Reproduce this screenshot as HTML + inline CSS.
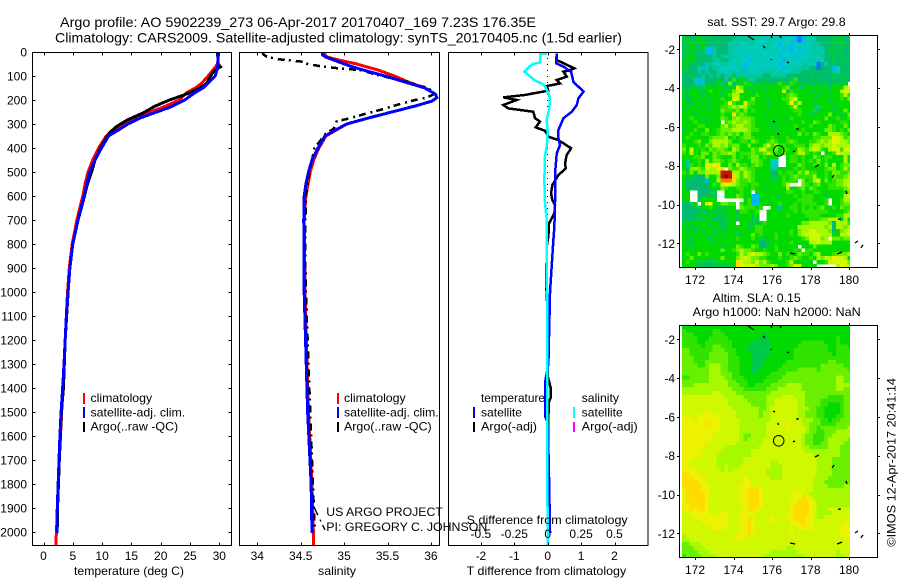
<!DOCTYPE html>
<html>
<head>
<meta charset="utf-8">
<title>Argo profile</title>
<style>
html,body{margin:0;padding:0;background:#fff;}
svg{display:block;}
text{font-family:"Liberation Sans",sans-serif;fill:#000;}
</style>
</head>
<body>
<svg id="chart" xmlns="http://www.w3.org/2000/svg" width="900" height="580" viewBox="0 0 900 580">
<rect x="0" y="0" width="900" height="580" fill="#fff"/>
<defs>
<clipPath id="clip1"><rect x="33" y="52" width="198" height="493"/></clipPath>
<clipPath id="clip2"><rect x="240" y="52" width="199" height="493"/></clipPath>
<clipPath id="clip3"><rect x="449" y="52" width="199" height="493"/></clipPath>
<clipPath id="clipA"><rect x="682" y="35" width="168" height="232"/></clipPath>
<clipPath id="clipB"><rect x="682" y="325" width="168" height="232"/></clipPath>
</defs>
<g font-size="14">
<text x="60" y="27" textLength="476" lengthAdjust="spacingAndGlyphs">Argo profile: AO 5902239_273 06-Apr-2017 20170407_169 7.23S 176.35E</text>
<text x="55" y="42.5" textLength="567" lengthAdjust="spacingAndGlyphs">Climatology: CARS2009. Satellite-adjusted climatology: synTS_20170405.nc (1.5d earlier)</text>
</g>
<g id="mapA"></g>
<g id="mapB"></g>
<g id="p1"></g>
<g id="p2"></g>
<g id="p3"></g>
<g id="axes" fill="none" stroke="#000" stroke-width="1" shape-rendering="crispEdges">
<rect x="32.5" y="52.5" width="199" height="493"/>
<rect x="239.5" y="52.5" width="200" height="493"/>
<rect x="448.5" y="52.5" width="199.5" height="493"/>
<rect x="679.5" y="35.5" width="198" height="232"/>
<rect x="679.5" y="325.5" width="198" height="232"/>
</g>
<g id="ticks"></g>
<g font-size="12">
<text x="74" y="575" textLength="110" lengthAdjust="spacingAndGlyphs">temperature (deg C)</text>
<text x="318" y="575" textLength="38" lengthAdjust="spacingAndGlyphs">salinity</text>
<text x="466.7" y="575" textLength="159.5" lengthAdjust="spacingAndGlyphs">T difference from climatology</text>
<text x="466.7" y="524" textLength="161" lengthAdjust="spacingAndGlyphs">S difference from climatology</text>
<text x="326.3" y="516" textLength="116.5" lengthAdjust="spacingAndGlyphs">US ARGO PROJECT</text>
<text x="326.3" y="531" textLength="161" lengthAdjust="spacingAndGlyphs">PI: GREGORY C. JOHNSON</text>
<text x="707.3" y="26" textLength="138.4" lengthAdjust="spacingAndGlyphs">sat. SST: 29.7 Argo: 29.8</text>
<text x="712.7" y="302" textLength="88" lengthAdjust="spacingAndGlyphs">Altim. SLA: 0.15</text>
<text x="692.7" y="316" textLength="168" lengthAdjust="spacingAndGlyphs">Argo h1000: NaN h2000: NaN</text>
<text transform="translate(895.5,546.7) rotate(-90)" x="0" y="0" textLength="168.7" lengthAdjust="spacingAndGlyphs">©IMOS 12-Apr-2017 20:41:14</text>
</g>
<g stroke="#000" stroke-width="1.4" fill="none">
<line x1="314" y1="507" x2="325" y2="530" stroke-dasharray="9 5 2 4"/>
</g>
<g font-size="12" shape-rendering="crispEdges">
<rect x="83" y="393" width="2" height="11" fill="#f00"/>
<rect x="83" y="407" width="2" height="11" fill="#00f"/>
<rect x="83" y="422" width="2" height="10" fill="#000"/>
<text x="90.5" y="402" textLength="61.7" lengthAdjust="spacingAndGlyphs">climatology</text>
<text x="90.5" y="416.5" textLength="94.7" lengthAdjust="spacingAndGlyphs">satellite-adj. clim.</text>
<text x="90.5" y="430.5" textLength="87.7" lengthAdjust="spacingAndGlyphs">Argo(..raw -QC)</text>
</g>
<g font-size="12" shape-rendering="crispEdges">
<rect x="337" y="393" width="2" height="11" fill="#f00"/>
<rect x="337" y="407" width="2" height="11" fill="#00f"/>
<rect x="337" y="422" width="2" height="10" fill="#000"/>
<text x="344" y="402" textLength="61.7" lengthAdjust="spacingAndGlyphs">climatology</text>
<text x="344" y="416.5" textLength="94.7" lengthAdjust="spacingAndGlyphs">satellite-adj. clim.</text>
<text x="344" y="430.5" textLength="87.7" lengthAdjust="spacingAndGlyphs">Argo(..raw -QC)</text>
</g>
<g font-size="12" shape-rendering="crispEdges">
<text x="481" y="402" textLength="64" lengthAdjust="spacingAndGlyphs">temperature</text>
<rect x="473" y="407" width="2" height="11" fill="#00f"/>
<text x="481" y="416.5" textLength="41" lengthAdjust="spacingAndGlyphs">satellite</text>
<rect x="473" y="422" width="2" height="10" fill="#000"/>
<text x="481" y="430.5" textLength="56" lengthAdjust="spacingAndGlyphs">Argo(-adj)</text>
<text x="581.7" y="402" textLength="37.3" lengthAdjust="spacingAndGlyphs">salinity</text>
<rect x="573" y="407" width="2" height="11" fill="#0ff"/>
<text x="581.7" y="416.5" textLength="41" lengthAdjust="spacingAndGlyphs">satellite</text>
<rect x="573" y="422" width="2" height="10" fill="#f0f"/>
<text x="581.7" y="430.5" textLength="56" lengthAdjust="spacingAndGlyphs">Argo(-adj)</text>
</g>
</svg>
<script>
// ---------- profile data ----------
const redTempDepth = [0,50,60,100,130,150,170,200,230,250,275,300,325,350,400,450,500,550,600,700,800,900,1000,1200,1400,1500,1700,1900,2054];
const redTemp = [29.9,29.7,29.4,28.1,27,25.9,24.4,23.2,20.4,18.2,15.9,13.9,12.2,10.7,9.4,8.4,7.6,7.1,6.7,5.7,4.9,4.4,4.1,3.7,3.3,3.1,2.7,2.4,2.1];
const argoTempDepth = [0,50,62,70,85,110,130,150,170,190,199,226,254,282,310,338,393,449,500,550,600,700,800,900,1000,1200,1400,1500,1700,1900,1980];
const argoTemp = [29.7,29.8,30.2,29.6,28.9,28.3,27.9,26.7,25,22.7,21.6,19,17,14.4,12.5,11.2,9.9,8.8,8.2,7.5,7,5.9,5,4.5,4.2,3.7,3.4,3.05,2.7,2.4,2.35];
const blueTempDepth = [0,50,80,100,130,150,175,200,230,250,275,300,325,350,400,450,500,550,600,700,800,900,1000,1100,1200,1300,1400,1500,1600,1700,1800,1900,2004];
const blueTemp = [29.8,29.8,29.55,29.3,28.1,27.2,25.5,24.1,21.6,19.3,16.5,14.4,12.8,11.1,9.9,8.8,7.9,7.4,6.9,5.9,5,4.5,4.2,3.9,3.7,3.5,3.27,3,2.8,2.65,2.5,2.35,2.3];

const redSalDepth = [0,20,30,50,75,100,125,150,175,190,205,225,250,275,300,325,350,400,450,500,600,700,1000,1500,1800,2054];
const redSal = [34.76,34.8,34.9,35.145,35.39,35.58,35.74,35.93,36.05,36.07,36.01,35.82,35.55,35.28,35.03,34.91,34.79,34.71,34.65,34.61,34.56,34.54,34.55,34.59,34.63,34.65];
const argoSalDepth = [0,10,20,30,40,50,60,70,75,100,125,140,150,175,190,200,215,240,260,275,285,290,320,340,400,450,500,600,800,1000,1200,1400,1600,1800,1980];
const argoSal = [34.06,34.07,34.11,34.24,34.51,34.58,34.74,34.99,35.18,35.43,35.74,35.86,35.97,36.04,35.95,35.82,35.66,35.43,35.22,35.08,34.96,34.91,34.88,34.79,34.66,34.63,34.6,34.56,34.55,34.56,34.58,34.6,34.62,34.64,34.66];
const blueSalDepth = [0,10,20,40,60,75,100,125,150,175,190,205,225,250,275,300,325,350,400,450,500,550,600,700,1000,1500,1800,2004];
const blueSal = [34.749,34.75,34.78,34.93,35.08,35.22,35.47,35.7,35.93,36.05,36.07,36.01,35.82,35.55,35.28,35.03,34.9,34.78,34.7,34.63,34.59,34.56,34.54,34.535,34.54,34.58,34.62,34.63];

const argoTDiffDepth = [6,33,50,68,78,82,103,117,131,142,161,179,189,200,221,235,249,276,290,314,328,353,367,401,429,464,485,513,554,589,617,638,672,714,769,800,950,1100,1350,1400,1440,1460,1700,1980];
const argoTDiff = [.27,.27,.52,.8,.62,.47,.57,.27,.37,-.03,.02,-.68,-1.33,-.93,-1.33,-1.18,-.43,-.38,-.23,-.36,-.08,.02,.32,.7,.57,.52,.54,.32,.14,.1,.14,.22,.2,.04,.02,-.02,-.05,0,0,.09,.09,.03,0,0];
const blueTDiffDepth = [6,47,61,82,124,165,193,221,249,276,325,360,388,422,506,617,728,783,1000,1300,1370,1520,1540,1700,2004];
const blueTDiff = [.27,.25,.47,.7,.77,1.07,.92,.87,.72,.47,.32,.32,.37,.27,.22,.22,.2,.17,.07,.02,-.07,-.07,-.01,.03,.07];
const cyanSDiffDepth = [6,8,44,50,82,119,131,144,172,193,235,283,332,394,429,533,631,700,783,1000,1500,2054];
const cyanSDiff = [-.007,-.057,-.057,-.115,-.175,-.095,-.045,-.02,.005,.017,.012,-.007,0,-.007,-.02,-.025,-.02,-.007,-.007,-.005,-.005,0];

// ---------- tick labels ----------
const depthTicks = [0,100,200,300,400,500,600,700,800,900,1000,1100,1200,1300,1400,1500,1600,1700,1800,1900,2000];
const tempTicks = [0,5,10,15,20,25,30];
const salTicks = [34,34.5,35,35.5,36];
const tDiffTicks = [-2,-1,0,1,2];
const sDiffTicks = [-0.5,-0.25,0,0.25,0.5];
const lonTicks = [172,174,176,178,180];
const latTicks = [-2,-4,-6,-8,-10,-12];

// ---------- map data: one letter per 0.2 degree cell, '.' is missing ----------
const mapLonStart = 171.32;
const mapLatStart = -1.26;
const mapStep = 0.2;
const sstRows = [
"ffef gfef eeee eedd dddd dccd ccdc cbab ddde eeef ffef",
"fgff gfee efee eddd dddc ccdd cccc cbab cdde eeff fgef",
"ffgf fgfe eeee dddc cddc ccdc cbcc bccc ccdd eeef efff",
"fegf ffbb deee ddcc dccc cddc ccbc bcbc cddc deff ffee",
"fgff efbb deee dccc cccc cccd cccc bccc ccdd ceff efef",
"efgf feee dedc ddcc cccc dccc cbcc cbcc cdcc deef feef",
"fggf eeee ddee dcdc cbcc cccc ccbc cccc cddd ceef effe",
"gffe fedd dcdd ccdc bccc cccc cbcc cccd dcca ecef efee",
"ffee dbde ddcc cccd bccc cccc ccbd cddd deea eeeb ceee",
"ffee dede edcc ddcd dccc cddd cdcc ddde eeef eeed ceef",
"fefe eded eded dedd dddd deed ddde eeef efee eeef efff",
"eeed bdee efed ehfg fdde eeee eeee fhee efef eeef eefe",
"eeed bdef fgff iegf hgff fgff fhgf hgff feff ffef fff.",
"fefg efgg fggf fgki gfgg gfgg gghi fgff ggfg ggfg ggjk",
"gfgg ffgh ggfg gijk ggfg gfgg ggkf hggg gfgg fgfg gjkk",
"ffgg gfgg ggfg hjjg gggh gggg gggh ihgg gggf gggg ghjh",
"gefg fggf gghg gkkg ggig ggfg gghh jkgg ggfg ggfg ghgi",
"ggfg ggfg gggh lhgg mhhg ggfg gggh lhjg ggfg gggf gggg",
"gfgg fggf gghh ijik jhgg ggfg gggg hkgg gggd gggg fggg",
"fggg ggfg ggih hhig ighg gggg gggg ghhg ggdf gggf ggig",
"gggf gggg gghg gmhi hggg gfgg gggg gghg gfgg ggig gfgi",
"gghg gfgg ggih giji iihg gggg fggf hggg gggg gigg hggh",
"gfgh ggfg gg.h ijii jihg ggfg gggg gggh ggih gggg ghhg",
"gggg hhgg ggij hijj iihg gggf gggg ghgg ghgg ggih ggig",
"fggh ggig ghii ijjj jihh gggg fggg gggh gggg giih ghgi",
"gghg ghhg ghih ihig iigg gggg gggg ggig hgih ggjj jihg",
"ghgg gggh iiij ghgh iihg gggh gggh gggg gghh iiil kjhi",
"gggh iggi jjjj iggh hgih gghi hggh ihgg ghhi jijl kjji",
"hggg hgih jjij hiig gigg gikh jhhg ghhh gijj ijjk jjjj",
"igkg ghgi hiih gjig ggih kkhh ighh ggji hjkj hgjk lhkk",
"hgjg giig ihii jigh hhih hiji hgig ghjj hghg .ggh kjjj",
"gggh higg ihgg gigh ghii ghgg g..g hhgh ggih ghhg ggjg",
"gdgg hgjg iihg hihg ggii hggc c..g hhgh ghgi ghgg ggjg",
"gdhg hgkk lmgg igjh hghi hggc c..g ggih gghh gigj ghii",
"geij ihkj jlm. ihhj ihhg gggd dggg ghgh gggg ghii ghjh",
"hgig iijj jjoo ojjh jihg ggge ehgh hgih jhhg ghgi ihhi",
"gfge eeig giop omjh jihg gggf eghg hihh hhjg ghgi hhij",
"geee eebg gjnn nmih hihg gggf gghg hh.i ghjk gigh iijj",
"geee eeeg hgkl kjih hghh gggg gghk ...i hghi gghh iijk",
"geee eeeg ggih gghh gghg gfgg gggj gghi gihg gghh hhij",
"gg.. eeee f..g gggh gg.g gggg gggh hggh gghh gggg gghi",
"gg.. eeff f..g ggih ggbb gggg gfgg ghgh hhgg gfgg ggjk",
"gg.. fggg g... .... ghbb gggg gggg gghh hhgg gh.g ghjj",
"eefg .gkl ggii hh.h ghbb gggg ghgg ghgh hhhg gh.g ghii",
"eeef fggh gfff gg.i hhhg h..g gbgg hhgh ghgh iggh gihh",
"eeee fffg ffgf ggfh hggh ..gg gggg ghgh hhhh hhgg gghi",
"eeef fgff gfff ggfg ggfg ..gg gggh gggg hhhh gggg hhjj",
"feef ffgg fefg fgfg ggff ..gg gggg gggg ghhh iijj jgjg",
"fggg gggf ggef gg.g gfff ghgg gggg gggi ijjj jjie jjjh",
"gfff gggf gfff gggg gfgh hggg gggg ggjj jjjj jije jjij",
"gggf gfgg fggf ggfg gggh hggg gggg hgij jkkj jjie gijk",
"gfgg gggf gffg gggf ggig hggg hggg hgij kkkk jjjg gkjk",
"ggfg ggff gggg gghg gghg ffgg hggg gggh ikkk ij.i ihii",
"gffg gggg fggg gggg gggg eefg gggg hggg gjjk jjjg gggg",
"ggfg gggg ggfg ggih ggih eegg hggg gg.g ggig gggg gggg",
"fggg gggg ggig ghij iihg ghgg hggg ghg. hhgg gggg gggg",
"ghgg ighg gggg gghj ijkj jihg gigh ggih hgij gggh iiij",
"ggig gggg ggig ggij kjii hhgg ghgg hihg ghgj ikjl kkjg",
"ghgg fgef fggg ggmk jjik ijhg gggh jggg gg.g ghkk lkki",
"gggg efef ffff fgml kkkj iiij iggh ikkg ggg. .... jlkj"
];
const slaRows = [
"gggg gggg gggg gggg gggg gggg gggg gggg gggg gggg gggg",
"hggg gggg hhgg gggg gggg gggg gggg gggg gggg gggg gggg",
"hhhg gggg hhhg gggg gggg gfgg gggg gggg gggg gggg gggg",
"hhhh gggh hhhh gggg gggg ffgg gggg gggg gggg gggg hggg",
"hhhh gghh hhhh hggg ggff fffg gggg gggh hhhh hggg hggg",
"hhhh hghh iihh hggg gfff fffg gggg gghh hhhh hhgg hhhg",
"iihh hhhh iiih hhgg gfff fffg gggg ghhh hhhh hhgg hhhh",
"iihh hhhi iiii hhgg ggff fffg gggg ghhh hhhh hhhg hhhh",
"iiih hhhi iiii hhhg ggff ffgg gggg ghhh hhhh hhhh hhhh",
"iiih hhii iiii hhhg ggff fggg gggh hhhh hhhh hhii hhhh",
"iiii hhij jjii hhhg ggff fggg gghh hhhh hhhh iiii iihh",
"iiii iiij jjii hhhg ggff gggg ghhh hhii iiih iiii iiih",
"iiii iiij jjii ihhg ggfg gggh hhhi iiii iiii iiii iiii",
"hhii iiij jjji ihhh gggg gghh hhii iiii iiii iiii jjii",
"iiii iiij jjjj iihh hggg ghhh hiii iiii iiii iiii jjii",
"iiij jjjj jjjj iiih hggh hhhi iiij jjji iiii iiii jjjj",
"jjjj jjjj jjjj jiii hhhh hhii ijjj jjji iiii iiii jjii",
"jjjj jjjj kkjj jjii iiii iiij jjjj jjjj iiii iiii iiii",
"kkkk kkkk kkkj jjjj iiii iijj jjkk kjjj iiii iihh hhii",
"kkkk kkkk kkkk jjjj jiii iijj kkkk kkjj iiii hhhh hhii",
"kkkk kkkk kkkk jjjj jjii iijj kkkk kkjj iiii hhgg ghii",
"kkkk kkkk kkkk kjjj jjjj iijk kkkk kkjj jiih hggg ghii",
"kkkk kkll kkkk kkjj jjjj ijjk kkkk kkjj iiih hggg ghii",
"lkkk llll lkkk kkjj jjjj ijjk kkkk kkjj iiih hggg hhii",
"lllk llll llkk kkkj jjjj jjjk kkkk kkkj jjii hhgh hiii",
"llll llml llkk kkkj jjjj jjkk kkkl kkkj jiii hhhh iiii",
"llll llll llkk kkkj jjjj jjkk kkkl kkkk jiih iiii iiij",
"llll llll lkkk kkkj jjjj jjkk kkkk kkkk jiih hiii jjjj",
"llll llll kkkk kkkj iijj jjkk kkkk kkkj iihh hiij jjjj",
"llll llll kkkk kkkj ijjj jkkk kkkk kkkj iihh hijj jjji",
"llll llkk kkkk kkjj jjjj jkkk kkkk kkkj iihh iijj jjii",
"llll llkk kkkj jjjj jjjj kkkk kkkk kkkj jiii iijj jiii",
"llll lkkk kkjj jjjj jjkk kkkk kkkk kkkk jjjj jjjj jiii",
"llll lkkk kjjj jjjj jjkk kkkk kkkk kkkk kkjj jjjj jiii",
"lllk kkkk kjjj jjjj kkkk kkkk kkkk kkkk kkkj jjji iiii",
"llkk kkkk kjjj jjjj kkkk kkkj jkkk kkkk kkkj jjji iiii",
"llkk kkkk kjjk jjjk kkkk kkkj jjkk kkkk kkkj jjji iiii",
"llll kkkk kkjk jkkk kkkk kkjj jjkk kkkk kkkj jjji iiii",
"mmll lkkk kkkk kkkk kkkk kkjj jjkk kkkk kkkj jjji iiii",
"mmml llkk kkkk kkkk lkkk kkkj jjkk kkkk kkjj jjii iiii",
"mmmm llkk kkkk kkkk llkk kkkk kkkk kkkk kkjj jiii iiii",
"mmmm mllk kkkk kkkl llkk kkkk kkkk kkkk kkjj jjii iijj",
"lmmm mllk kkkk kkkl lmmm lkkk kkkk kkkl kkjj jjjj jjjj",
"lmmm mmlk kkkk kkkl lmmm lkkk kkkk kllk kjjj jjjj jjjj",
"lmmm mmlk kkkk kkkl lmmm lkkk kkkk kllm lkjj jjjj jjjj",
"lmmm mmlk kkkk kkkl lmmm lkkk kkkk llmm mlkj jjjj jjjj",
"llmm mmlk kkkk kkkl lmmm lkkk kkkk lmmm mlkj jjjj jjjj",
"llml mmlk kkkk kkkk lmml kkkk kkkk lmmm mlkj jjkk kkkk",
"kkll lllk kkll kkkl lllk kkkk kkkk lmmm mlkj jjjk kkkk",
"kkkl llll llll kkkl lkkk kkkl kkkl lmmm llkj jkkk kkkk",
"kkkk klll llll kkkl lmlk kkkl kkkk llmm llkk kkkk kkkk",
"kkkk kkll llll kkkl lmlk kkkk kkkk lllm llkk kkkk kkll",
"kkkk kkkl lllk kkkl lmlk kkkk kkkk kkll llkk kkkk klll",
"kkkk kkkk kkkk kkkl lmlk kkkk kkkk lkkk kkkk kkkk klll",
"jkkk kkkk kkkk kkll lkkk kkkk kkkk kkkk kkkk kkkk kkll",
"jjkk kkkk kkkk kkkl kkkk kkkk kkkk kkkk kkkk kkkk kkkk",
"iijj jkkk kkkk kkkk kkkk kkkk kkkk kkkk kkkk kkkk kkkk",
"iiij jjkk kkkk kkkk kkkk kkkk kkkj jkkk kkkk kkkk kkkk",
"iiii jjjk kkkk kkkk kkkk kkkj jjjj jjkk kkkk kkkk jkkk",
"hiii ijjj jkkk kkkk kkkk kjjj jjjj jjjj kkkk kkkk jjkk"
];
const coastLonA = [174.75,175.95,176.42,175.53,175.95,176.78,176.05,176.31,177.25,177.09,178.23,179.12,179.84,179.43,176.94,179.38,180.31,180.62];
const coastLatA = [-1.31,-1.31,-1.31,-1.83,-2.5,-2.65,-5.7,-6.31,-6.11,-7.29,-8.07,-8.63,-9.3,-10.75,-12.5,-12.55,-11.98,-12.23];
const coastLonB = [175.06,176.0,176.47,175.64,175.97,176.88,176.16,176.34,177.4,177.2,178.44,179.22,179.9,179.58,177.2,179.64,180.47,180.73];
const coastLatB = [-1.52,-1.42,-1.42,-1.93,-2.55,-2.71,-5.75,-6.42,-6.11,-7.24,-7.96,-8.48,-9.46,-10.75,-12.55,-12.45,-11.88,-12.08];
const profileLon = 176.35;
const profileLat = -7.23;

// ---------- scales ----------
const yDepth = d => 52 + 0.24 * d;
const xTemp = t => 43.5 + 5.86 * t;
const xSal = s => 257.3 + 86.8 * (s - 34);
const xTDiff = t => 547.7 + 33.4 * t;
const xSDiff = s => 547.7 + 133.6 * s;
const xLon = lon => 695 + 19.25 * (lon - 172);
const yLatA = lat => 49.3 + 19.4 * (-2 - lat);
const yLatB = lat => 339.3 + 19.4 * (-2 - lat);

const levelColors = {a:'#0078ff',b:'#00b8f0',c:'#00ccbe',d:'#00c8a0',e:'#00bc70',f:'#00c848',g:'#00da00',h:'#30e400',i:'#68f000',j:'#a8f800',k:'#d0f800',l:'#ecf200',m:'#ffdc00',n:'#ff7800',o:'#c81400',p:'#900000'};

const NS = 'http://www.w3.org/2000/svg';
function make(parent, tag, props) {
  const node = document.createElementNS(NS, tag);
  for (const k in props) node.setAttribute(k, props[k]);
  parent.appendChild(node);
  return node;
}

function drawProfile(parent, depths, values, xFn, color, width, name, dash, clip) {
  const pts = depths.map((d, i) => xFn(values[i]).toFixed(2) + ',' + yDepth(d).toFixed(2)).join(' ');
  const props = {points: pts, fill: 'none', stroke: color, 'stroke-width': width, 'shape-rendering': 'crispEdges', 'clip-path': 'url(#' + clip + ')'};
  if (dash) props['stroke-dasharray'] = dash;
  const line = make(parent, 'polyline', props);
  
  
}

function drawMap(parent, rows, yFn, clip, label) {
  const group = make(parent, 'g', {'clip-path': 'url(#' + clip + ')', 'shape-rendering': 'crispEdges'});
  
  
  rows.forEach((raw, r) => {
    const row = raw.replace(/ /g, '');
    for (let c = 0; c < row.length; c++) {
      const color = levelColors[row[c]];
      if (!color) continue;
      const lon = mapLonStart + c * mapStep;
      const lat = mapLatStart - r * mapStep;
      const x0 = xLon(lon), x1 = xLon(lon + mapStep);
      const y0 = yFn(lat), y1 = yFn(lat - mapStep);
      const cell = make(group, 'rect', {x: x0.toFixed(2), y: y0.toFixed(2), width: (x1 - x0 + 0.4).toFixed(2), height: (y1 - y0 + 0.4).toFixed(2), fill: color});
      
      
    }
  });
  coastLonA.forEach((lon, i) => {
    const seg = make(parent, 'line', {x1: xLon(lon).toFixed(1), y1: yFn(coastLatA[i]).toFixed(1), x2: xLon(coastLonB[i]).toFixed(1), y2: yFn(coastLatB[i]).toFixed(1), stroke: '#000', 'stroke-width': 1.3});
    
    
  });
  const ring = make(parent, 'circle', {cx: xLon(profileLon).toFixed(1), cy: yFn(profileLat).toFixed(1), r: 5.3, fill: 'none', stroke: '#000', 'stroke-width': 1});
  
  
}

const tickGroup = document.getElementById('ticks');
function tick(x1, y1, x2, y2) {
  const t = make(tickGroup, 'line', {x1: x1, y1: y1, x2: x2, y2: y2, stroke: '#000', 'stroke-width': 1, 'shape-rendering': 'crispEdges'});
  
  
}
function label(text, x, y, anchor) {
  const t = make(tickGroup, 'text', {x: x, y: y, 'text-anchor': anchor, 'font-size': 12});
  t.textContent = text;
  
  
}
const snap = v => Math.round(v) + 0.5;

// ---------- draw maps ----------
drawMap(document.getElementById('mapA'), sstRows, yLatA, 'clipA', 'sst');
drawMap(document.getElementById('mapB'), slaRows, yLatB, 'clipB', 'sla');

// ---------- draw profiles ----------
const p1 = document.getElementById('p1');
drawProfile(p1, redTempDepth, redTemp, xTemp, '#f00', 3, 'temperature-climatology-line', null, 'clip1');
drawProfile(p1, argoTempDepth, argoTemp, xTemp, '#000', 3, 'temperature-argo-line', null, 'clip1');
drawProfile(p1, blueTempDepth, blueTemp, xTemp, '#00f', 3, 'temperature-satellite-line', null, 'clip1');
const p2 = document.getElementById('p2');
drawProfile(p2, redSalDepth, redSal, xSal, '#f00', 3, 'salinity-climatology-line', null, 'clip2');
drawProfile(p2, argoSalDepth, argoSal, xSal, '#000', 2.5, 'salinity-argo-line', '7 4 2 5', 'clip2');
drawProfile(p2, blueSalDepth, blueSal, xSal, '#00f', 3, 'salinity-satellite-line', null, 'clip2');
const p3 = document.getElementById('p3');
const zero = make(p3, 'line', {x1: 547.5, y1: 52, x2: 547.5, y2: 545, stroke: '#000', 'stroke-width': 1, 'stroke-dasharray': '1 5', 'shape-rendering': 'crispEdges'});


drawProfile(p3, argoTDiffDepth, argoTDiff, xTDiff, '#000', 2.5, 't-diff-argo-line', null, 'clip3');
drawProfile(p3, blueTDiffDepth, blueTDiff, xTDiff, '#00f', 2.5, 't-diff-satellite-line', null, 'clip3');
drawProfile(p3, cyanSDiffDepth, cyanSDiff, xSDiff, '#0ff', 2.5, 's-diff-satellite-line', null, 'clip3');

// ---------- ticks and labels ----------
depthTicks.forEach(d => {
  const y = snap(yDepth(d));
  tick(32.5, y, 35.5, y);
  tick(228.5, y, 231.5, y);
  label(String(d), 27, yDepth(d) + 4.5, 'end');
});
tempTicks.forEach(t => {
  const x = snap(xTemp(t));
  tick(x, 52.5, x, 55.5);
  tick(x, 542.5, x, 545.5);
  label(String(t), xTemp(t), 560, 'middle');
});
salTicks.forEach(s => {
  const x = snap(xSal(s));
  tick(x, 52.5, x, 55.5);
  tick(x, 542.5, x, 545.5);
  label(String(s), xSal(s), 560, 'middle');
});
tDiffTicks.forEach(t => {
  const x = snap(xTDiff(t));
  tick(x, 52.5, x, 55.5);
  tick(x, 542.5, x, 545.5);
  label(String(t), xTDiff(t), 560, 'middle');
});
sDiffTicks.forEach(s => {
  label(String(s), xSDiff(s), 538, 'middle');
});
[[yLatA, 35.5, 267.5, 284], [yLatB, 325.5, 557.5, 574]].forEach(cfg => {
  lonTicks.forEach(lon => {
    const x = snap(xLon(lon));
    tick(x, cfg[1] - 2.5, x, cfg[1]);
    tick(x, cfg[2], x, cfg[2] + 2.5);
    label(String(lon), xLon(lon), cfg[3], 'middle');
  });
  latTicks.forEach(lat => {
    const y = snap(cfg[0](lat));
    tick(677, y, 679.5, y);
    tick(877.5, y, 880, y);
    label(String(lat), 675, cfg[0](lat) + 4.5, 'end');
  });
});
</script>
</body>
</html>
